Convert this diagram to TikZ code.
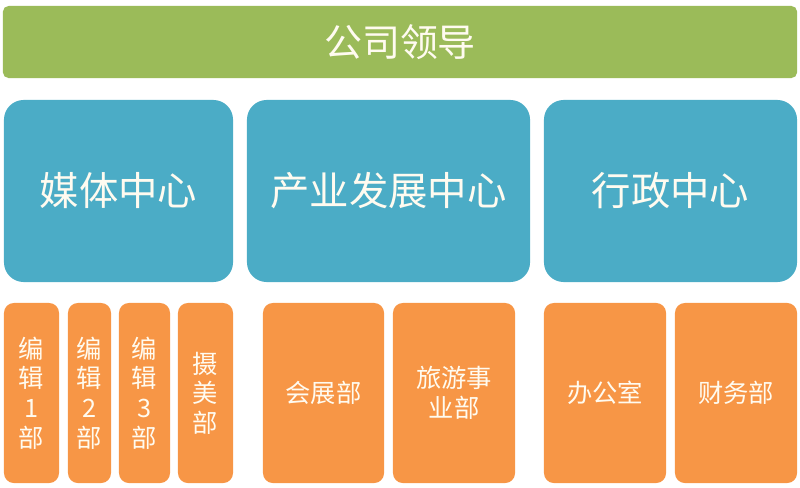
\documentclass[tikz,border=0pt]{standalone}
\usepackage{fontspec}
\usepackage{xcolor}
\usepackage{tikz}
\usetikzlibrary{positioning}
\newfontfamily\cjk{Noto Sans CJK SC}
\definecolor{LeadGreen}{HTML}{9BBB59}
\definecolor{CentreBlue}{HTML}{4BACC6}
\definecolor{DeptOrange}{HTML}{F79646}
\definecolor{TextCream}{HTML}{FFFBF0}

\begin{document}
\begin{tikzpicture}[x=0.025cm, y=-0.025cm, every node/.style={text=TextCream, inner sep=0pt, align=center},
    leadbox/.style={fill=LeadGreen, rounded corners=4pt, font=\cjk\fontsize{27}{32}\selectfont},
    centrebox/.style={fill=CentreBlue, rounded corners=14pt, minimum height=4.55cm, font=\cjk\fontsize{28}{34}\selectfont},
    deptbox/.style={fill=DeptOrange, rounded corners=7pt, minimum height=4.5cm, font=\cjk\fontsize{18}{21}\selectfont}]
        \useasboundingbox (0,0) rectangle (800,487);
        % top level
        \node (lead) [leadbox, minimum width=19.85cm, minimum height=1.8cm] at (400,42) {公司领导};
        % centres
        \node (media) [centrebox, minimum width=5.725cm] at (118.5,191) {媒体中心};
        \node (industry) [centrebox, minimum width=7.075cm] at (388.5,191) {产业发展中心};
        \node (admin) [centrebox, minimum width=6.325cm] at (670.5,191) {行政中心};
        % departments
        \node (edit1) [deptbox, minimum width=1.375cm] at (31.5,393) {编\\辑\\1\\部};
        \node (edit2) [deptbox, minimum width=1.075cm] at (89.5,393) {编\\辑\\2\\部};
        \node (edit3) [deptbox, minimum width=1.275cm] at (144.5,393) {编\\辑\\3\\部};
        \node (photo) [deptbox, minimum width=1.375cm] at (205.5,393) {摄\\美\\部};
        \node (expo) [deptbox, minimum width=3.025cm] at (323.5,393) {会展部};
        \node (tour) [deptbox, minimum width=3.05cm] at (454,393) {旅游事\\业部};
        \node (office) [deptbox, minimum width=3.05cm] at (605,393) {办公室};
        \node (finance) [deptbox, minimum width=3.05cm] at (736,393) {财务部};
      \end{tikzpicture}
\end{document}
